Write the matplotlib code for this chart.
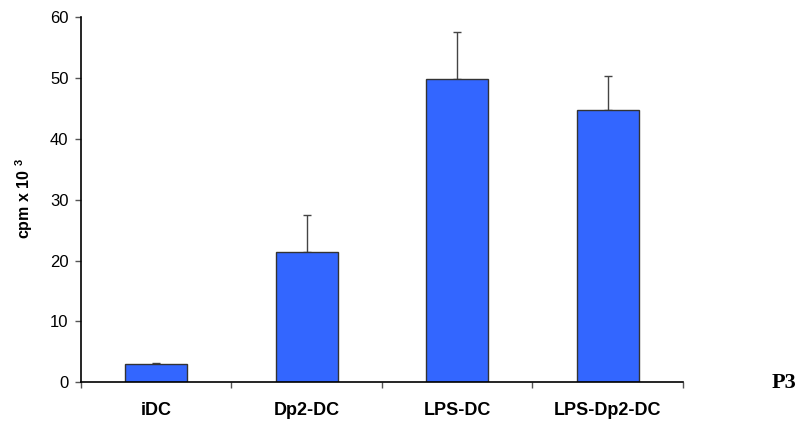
import matplotlib
matplotlib.use("Agg")
import matplotlib.pyplot as plt
import numpy as np

# Proliferation (cpm x 10^3) per dendritic cell condition
categories = ["iDC", "Dp2-DC", "LPS-DC", "LPS-Dp2-DC"]
means = [3.0, 21.4, 49.8, 44.7]
sd_upper = [0.2, 6.1, 7.8, 5.6]
y_ticks = [0, 10, 20, 30, 40, 50, 60]

plt.rcParams["font.family"] = ["Liberation Sans", "DejaVu Sans"]
plt.rcParams["mathtext.fontset"] = "custom"
plt.rcParams["mathtext.bf"] = "Liberation Sans:bold"
plt.rcParams["mathtext.rm"] = "Liberation Sans:bold"

fig = plt.figure(figsize=(8.05, 4.22), dpi=100)
ax = fig.add_axes([0.1006, 0.0941, 0.7478, 0.8649])

x = np.arange(len(categories))
ax.bar(x, means, width=0.41, color="#3366FF", edgecolor="#333333",
       linewidth=1.0, zorder=2)
zeros = np.zeros(len(means))
ax.errorbar(x, means, yerr=[zeros, sd_upper], fmt="none", ecolor="#444444",
            elinewidth=1.0, capsize=3, capthick=1.0, zorder=1)

ax.set_xlim(-0.5, len(categories) - 0.5)
ax.set_ylim(0, 60)
ax.set_yticks(y_ticks)
ax.set_yticklabels([str(v) for v in y_ticks], fontsize=12)

ax.set_xticks(x)
ax.set_xticklabels(categories, fontsize=13, fontweight="bold")
ax.set_xticks(np.arange(len(categories) + 1) - 0.5, minor=True)
ax.tick_params(axis="x", which="major", length=0, pad=14)
ax.tick_params(axis="x", which="minor", direction="out", length=4,
               width=1, color="#555555")
ax.tick_params(axis="y", direction="out", length=4, width=1,
               color="#555555", pad=5)

for side in ("top", "right"):
    ax.spines[side].set_visible(False)
for side in ("left", "bottom"):
    ax.spines[side].set_linewidth(1.2)
    ax.spines[side].set_color("black")

fig.text(0.03, 0.53, r"cpm x 10 $^{\mathbf{3}}$", rotation=90,
         fontsize=11.5, fontweight="bold", ha="center", va="center")

fig.text(0.974, 0.0924, "P3", fontsize=16, fontweight="bold",
         family="Liberation Serif", ha="center", va="center")

fig.savefig("out.png", dpi=100)
